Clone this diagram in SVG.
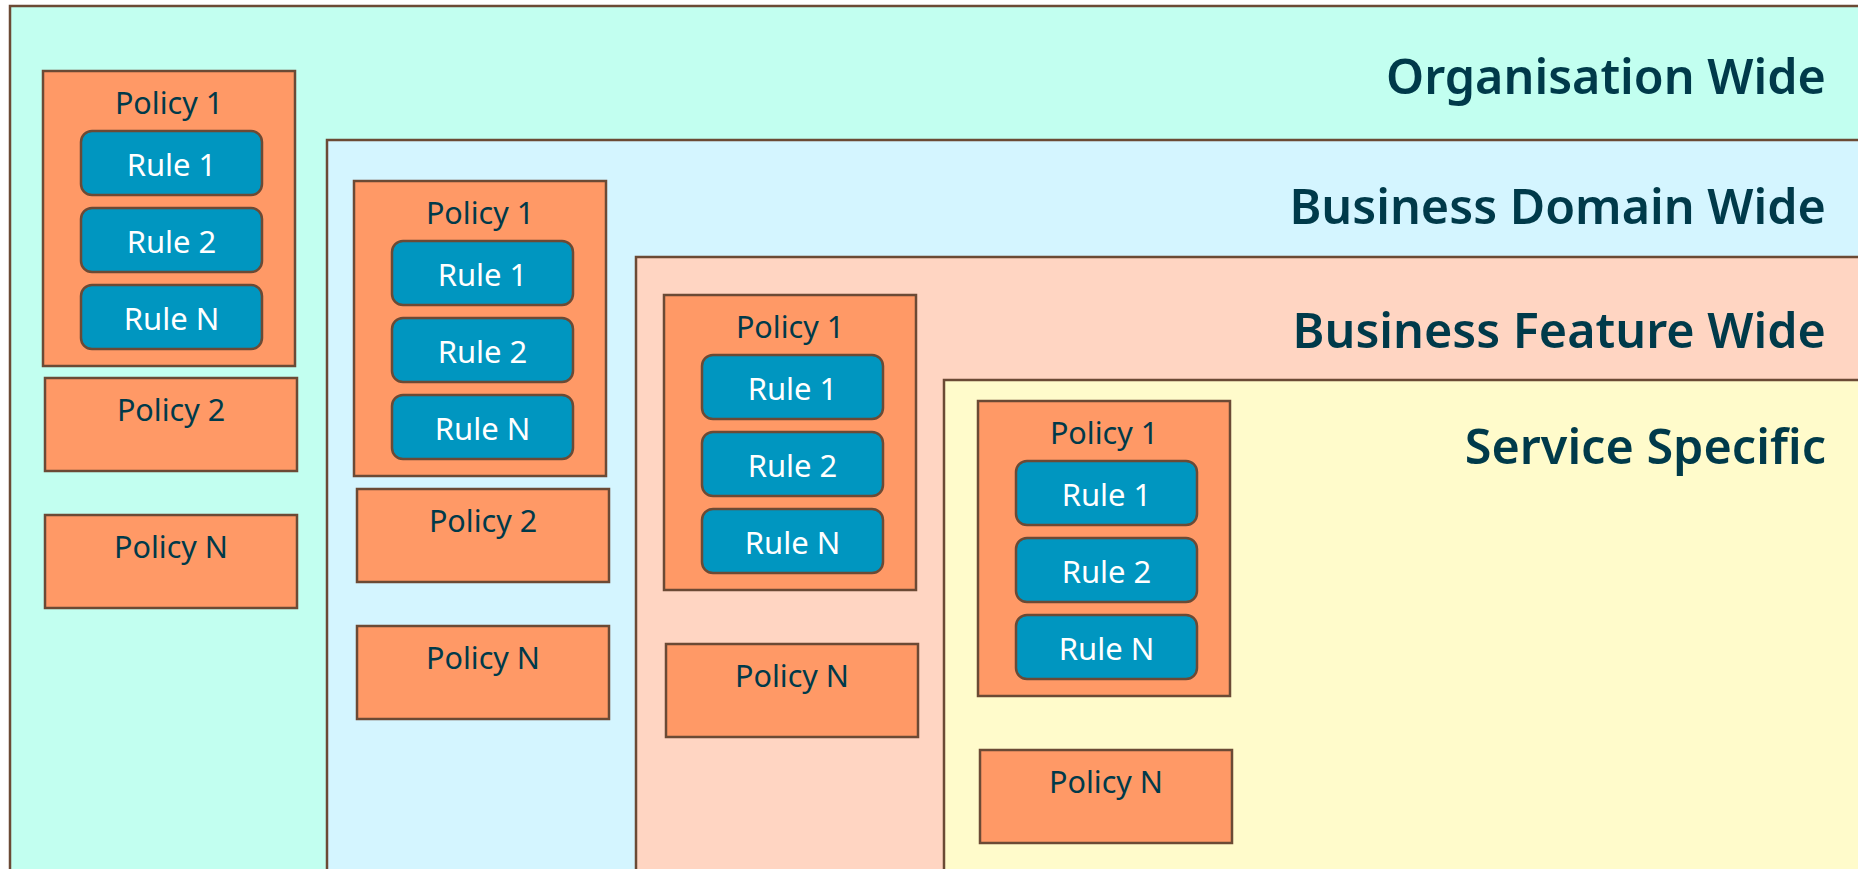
<svg xmlns="http://www.w3.org/2000/svg" width="1858" height="869" viewBox="0 0 1858 869">
  <style>
    .zone { stroke: #6b4a35; stroke-width: 2.5; }
    .org { fill: #c2fff0; }
    .domain { fill: #d4f5ff; }
    .feature { fill: #ffd5c2; }
    .service { fill: #fffbcb; }
    .policy { fill: #ff9966; stroke: #6b4a35; stroke-width: 2.5; }
    .rule { fill: #0096c0; stroke: #6b4a35; stroke-width: 2.5; }
    .title { font-family: "Noto Sans", "Liberation Sans", sans-serif; font-weight: 600; font-size: 48.5px; fill: #003a4a; text-anchor: end; }
    .plabel { font-family: "Noto Sans", "Liberation Sans", sans-serif; font-size: 30.5px; fill: #003a4a; text-anchor: middle; }
    .rlabel { font-family: "Noto Sans", "Liberation Sans", sans-serif; font-size: 31px; fill: #ffffff; text-anchor: middle; }
  </style>
  <defs>
    <!-- a policy holding three rules -->
    <g id="policyWithRules">
      <rect class="policy" x="0" y="0" width="252" height="295"/>
      <text class="plabel" x="126" y="43">Policy 1</text>
      <rect class="rule" x="38" y="60" width="181" height="64" rx="11"/>
      <text class="rlabel" x="128.5" y="105">Rule 1</text>
      <rect class="rule" x="38" y="137" width="181" height="64" rx="11"/>
      <text class="rlabel" x="128.5" y="182">Rule 2</text>
      <rect class="rule" x="38" y="214" width="181" height="64" rx="11"/>
      <text class="rlabel" x="128.5" y="259">Rule N</text>
    </g>
  </defs>

  <rect width="1858" height="869" fill="#ffffff"/>

  <!-- scope zones, nested from widest to narrowest -->
  <g id="zone-organisation">
    <rect class="zone org" x="10" y="6" width="1860" height="880"/>
    <text class="title" x="1826" y="94">Organisation Wide</text>
  </g>
  <g id="zone-domain">
    <rect class="zone domain" x="327" y="140" width="1540" height="740"/>
    <text class="title" x="1826" y="224">Business Domain Wide</text>
  </g>
  <g id="zone-feature">
    <rect class="zone feature" x="636" y="257" width="1230" height="620"/>
    <text class="title" x="1826" y="348">Business Feature Wide</text>
  </g>
  <g id="zone-service">
    <rect class="zone service" x="944" y="380" width="920" height="500"/>
    <text class="title" x="1826" y="464">Service Specific</text>
  </g>

  <!-- organisation policies -->
  <g id="org-policy-1" transform="translate(43,71)"><use href="#policyWithRules"/></g>
  <g id="org-policy-2">
    <rect class="policy" x="45" y="378" width="252" height="93"/>
    <text class="plabel" x="171" y="421">Policy 2</text>
  </g>
  <g id="org-policy-n">
    <rect class="policy" x="45" y="515" width="252" height="93"/>
    <text class="plabel" x="171" y="558">Policy N</text>
  </g>

  <!-- business domain policies -->
  <g id="domain-policy-1" transform="translate(354,181)"><use href="#policyWithRules"/></g>
  <g id="domain-policy-2">
    <rect class="policy" x="357" y="489" width="252" height="93"/>
    <text class="plabel" x="483" y="532">Policy 2</text>
  </g>
  <g id="domain-policy-n">
    <rect class="policy" x="357" y="626" width="252" height="93"/>
    <text class="plabel" x="483" y="669">Policy N</text>
  </g>

  <!-- business feature policies -->
  <g id="feature-policy-1" transform="translate(664,295)"><use href="#policyWithRules"/></g>
  <g id="feature-policy-n">
    <rect class="policy" x="666" y="644" width="252" height="93"/>
    <text class="plabel" x="792" y="687">Policy N</text>
  </g>

  <!-- service policies -->
  <g id="service-policy-1" transform="translate(978,401)"><use href="#policyWithRules"/></g>
  <g id="service-policy-n">
    <rect class="policy" x="980" y="750" width="252" height="93"/>
    <text class="plabel" x="1106" y="793">Policy N</text>
  </g>

  <g id="connectors"/>
</svg>
